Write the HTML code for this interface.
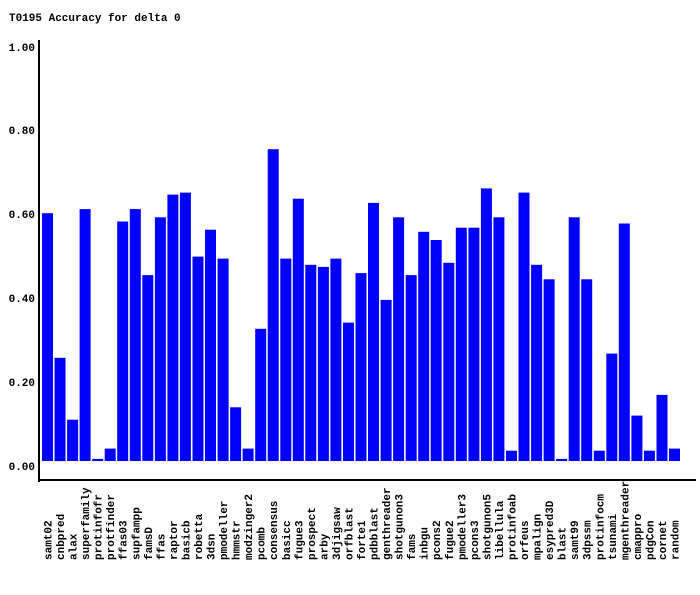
<!DOCTYPE html>
<html><head><style>body{margin:0;background:#fff;overflow:hidden}svg text{font-family:"Liberation Mono","DejaVu Sans Mono",monospace;font-weight:bold;font-size:11px;fill:#000}</style></head>
<body>
<svg width="700" height="590" xmlns="http://www.w3.org/2000/svg">
<text x="9" y="21">T0195 Accuracy for delta 0</text>
<g id="bars" fill="#0000ff"></g>
<g id="labels"></g>
<rect x="38" y="40" width="2" height="442" fill="#000"/>
<rect x="38" y="479" width="658" height="2" fill="#000"/>
<g text-anchor="end">
<text x="35" y="51">1.00</text>
<text x="35" y="134">0.80</text>
<text x="35" y="218">0.60</text>
<text x="35" y="302">0.40</text>
<text x="35" y="386">0.20</text>
<text x="35" y="470">0.00</text>
</g>
<script>
var d=[["samt02",.60],["cnbpred",.25],["alax",.10],["superfamily",.61],["protinfofr",.005],["protfinder",.03],["ffas03",.58],["supfampp",.61],["famsD",.45],["ffas",.59],["raptor",.645],["basicb",.65],["robetta",.495],["3dsn",.56],["pmodeller",.49],["hmmstr",.13],["modzinger2",.03],["pcomb",.32],["consensus",.755],["basicc",.49],["fugue3",.635],["prospect",.475],["arby",.47],["3djigsaw",.49],["orfblast",.335],["forte1",.455],["pdbblast",.625],["genthreader",.39],["shotgunon3",.59],["fams",.45],["inbgu",.555],["pcons2",.535],["fugue2",.48],["pmodeller3",.565],["pcons3",.565],["shotgunon5",.66],["libellula",.59],["protinfoab",.025],["orfeus",.65],["mpalign",.475],["esypred3D",.44],["blast",.005],["samt99",.59],["3dpssm",.44],["protinfocm",.025],["tsunami",.26],["mgenthreader",.575],["cmappro",.11],["pdgCon",.025],["cornet",.16],["random",.03]];
var ns="http://www.w3.org/2000/svg",b=document.getElementById("bars"),l=document.getElementById("labels");
d.forEach(function(e,i){var x=42+i*12.54,h=Math.max(1,e[1]*413);
var r=document.createElementNS(ns,"rect");r.setAttribute("x",x.toFixed(1));r.setAttribute("y",(461-h).toFixed(1));r.setAttribute("width","11");r.setAttribute("height",h.toFixed(1));b.appendChild(r);
var t=document.createElementNS(ns,"text");var cx=x+9.5;t.setAttribute("transform","translate("+cx.toFixed(1)+",560) rotate(-90)");t.setAttribute("text-anchor","start");t.textContent=e[0];l.appendChild(t);});
</script>
</svg>
</body></html>
